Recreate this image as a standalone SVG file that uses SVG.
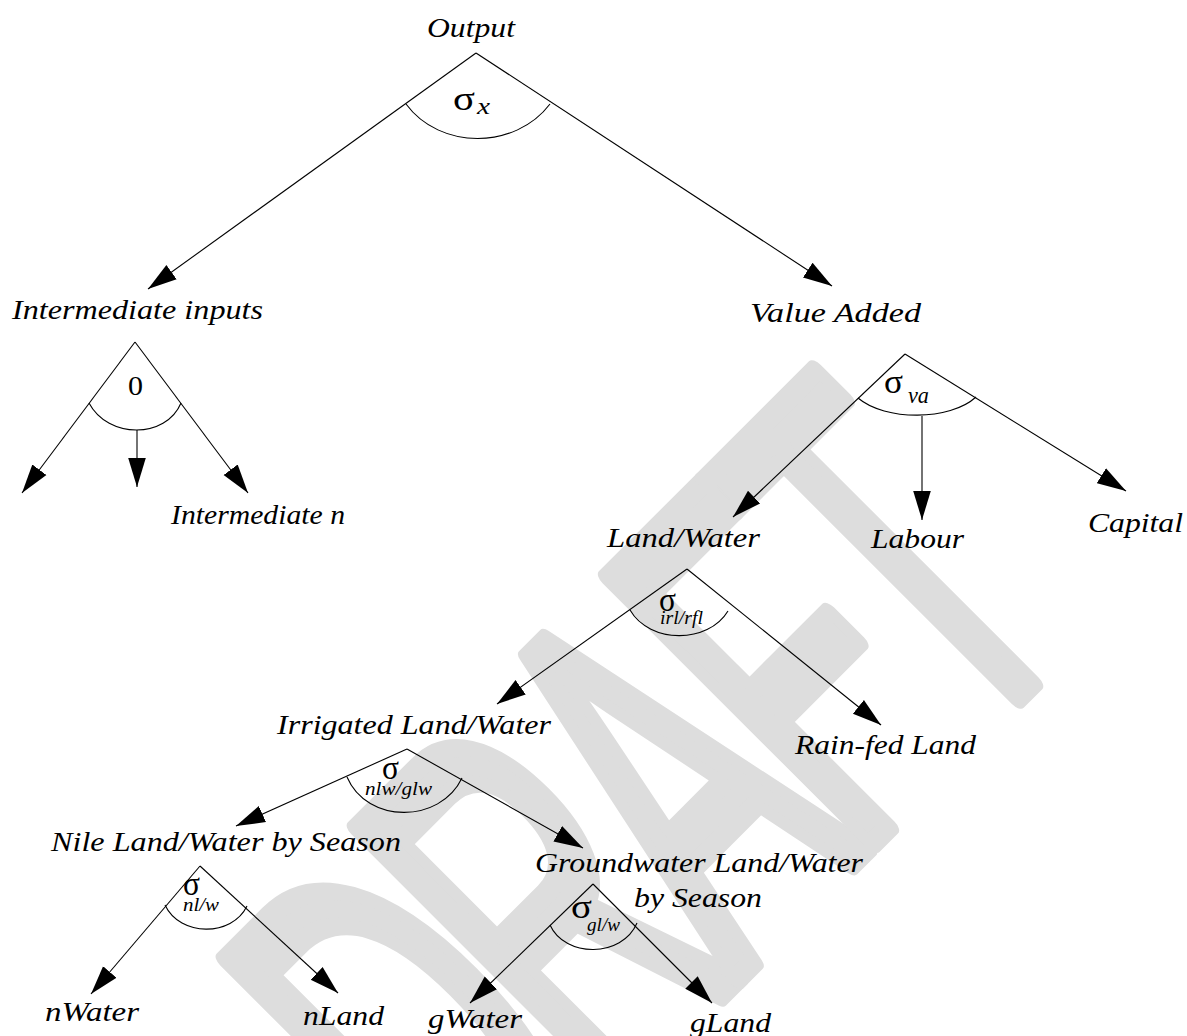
<svg xmlns="http://www.w3.org/2000/svg" width="1187" height="1036" viewBox="0 0 1187 1036">
<style>
.wm{font-family:"Liberation Sans",Arial,sans-serif;font-size:545px;letter-spacing:-37px;fill:#dddddd;stroke:#dddddd;stroke-width:22px;stroke-linejoin:round}
.lbl{font-family:"Liberation Serif","Times New Roman",serif;font-style:italic;font-size:27px;fill:#000}
.sig{font-family:"Liberation Serif","Times New Roman",serif;font-size:34px;fill:#000}
.sub{font-family:"Liberation Serif","Times New Roman",serif;font-style:italic;font-size:19px;fill:#000}
.num{font-family:"Liberation Serif","Times New Roman",serif;font-size:27px;fill:#000}
.ln{stroke:#000;stroke-width:1.1;fill:none}
.ar{stroke:#000;stroke-width:1.1;fill:none;marker-end:url(#ah)}
</style>
<defs>
<marker id="ah" markerUnits="userSpaceOnUse" markerWidth="30" markerHeight="20" viewBox="0 0 30 20" refX="29" refY="10" orient="auto">
<path d="M0,1.2 L29,10 L0,18.8 z" fill="#000"/>
</marker>
</defs>
<rect width="1187" height="1036" fill="#fff"/>
<text class="wm" transform="translate(473,1243) rotate(-45) scale(0.52,1)">DRAFT</text>

<g id="connectors">
<path class="ar" d="M476,53 L148,289"/>
<path class="ar" d="M476,53 L832,286"/>
<path class="ln" d="M406,104 C440,150 515,150 550,104"/>

<path class="ar" d="M135,342 L22,493"/>
<path class="ar" d="M135,342 L248,493"/>
<path class="ar" d="M137,430 L137,487"/>
<path class="ln" d="M89,403 C108,439 166,439 181,403"/>

<path class="ar" d="M905,354 L733,517"/>
<path class="ar" d="M922,416 L922,520"/>
<path class="ar" d="M905,354 L1126,491"/>
<path class="ln" d="M858,398 C885,421 950,421 976,397"/>

<path class="ar" d="M687,569 L497,704"/>
<path class="ar" d="M687,569 L881,725"/>
<path class="ln" d="M630,610 C650,644 708,644 728,611"/>

<path class="ar" d="M407,749 L236,826"/>
<path class="ar" d="M407,749 L583,848"/>
<path class="ln" d="M347,777 C367,824 440,824 462,778"/>

<path class="ar" d="M200,866 L91,994"/>
<path class="ar" d="M200,866 L338,993"/>
<path class="ln" d="M165,905 C180,937 232,937 247,906"/>

<path class="ar" d="M593,884 L470,1003"/>
<path class="ar" d="M593,884 L712,1003"/>
<path class="ln" d="M550,925 C565,958 622,958 637,923"/>
</g>

<g id="n-output"><text class="lbl" x="427" y="37" textLength="88" lengthAdjust="spacingAndGlyphs">Output</text>
<text class="sig" x="453" y="110" textLength="22" lengthAdjust="spacingAndGlyphs">σ</text><text class="sub" x="477" y="114" style="font-size:24px" textLength="13" lengthAdjust="spacingAndGlyphs">x</text></g>

<g id="n-intermediate"><text class="lbl" x="12" y="319" textLength="251" lengthAdjust="spacingAndGlyphs">Intermediate inputs</text>
<text class="num" x="128" y="395" textLength="15" lengthAdjust="spacingAndGlyphs">0</text></g>

<g id="n-intermediate-n"><text class="lbl" x="171" y="524" textLength="174" lengthAdjust="spacingAndGlyphs">Intermediate n</text></g>

<g id="n-value-added"><text class="lbl" x="750" y="322" textLength="171" lengthAdjust="spacingAndGlyphs">Value Added</text>
<text class="sig" x="884" y="393" textLength="19" lengthAdjust="spacingAndGlyphs">σ</text><text class="sub" x="908" y="403" style="font-size:23px" textLength="21" lengthAdjust="spacingAndGlyphs">va</text></g>

<g id="n-land-water"><text class="lbl" x="607" y="547" textLength="153" lengthAdjust="spacingAndGlyphs">Land/Water</text>
<text class="sig" x="659" y="611" textLength="17" lengthAdjust="spacingAndGlyphs">σ</text><text class="sub" x="660" y="624" textLength="43" lengthAdjust="spacingAndGlyphs">irl/rfl</text></g>

<g id="n-labour"><text class="lbl" x="871" y="548" textLength="93" lengthAdjust="spacingAndGlyphs">Labour</text></g>
<g id="n-capital"><text class="lbl" x="1088" y="532" textLength="95" lengthAdjust="spacingAndGlyphs">Capital</text></g>

<g id="n-irrigated"><text class="lbl" x="277" y="734" textLength="274" lengthAdjust="spacingAndGlyphs">Irrigated Land/Water</text>
<text class="sig" x="382" y="779" textLength="17" lengthAdjust="spacingAndGlyphs">σ</text><text class="sub" x="365" y="795" textLength="67" lengthAdjust="spacingAndGlyphs">nlw/glw</text></g>

<g id="n-rainfed"><text class="lbl" x="795" y="754" textLength="181" lengthAdjust="spacingAndGlyphs">Rain-fed Land</text></g>

<g id="n-nile"><text class="lbl" x="51" y="851" textLength="350" lengthAdjust="spacingAndGlyphs">Nile Land/Water by Season</text>
<text class="sig" x="183" y="895" textLength="17" lengthAdjust="spacingAndGlyphs">σ</text><text class="sub" x="183" y="911" textLength="36" lengthAdjust="spacingAndGlyphs">nl/w</text></g>

<g id="n-groundwater"><text class="lbl" x="535" y="872" textLength="328" lengthAdjust="spacingAndGlyphs">Groundwater Land/Water</text>
<text class="lbl" x="634" y="907" textLength="128" lengthAdjust="spacingAndGlyphs">by Season</text>
<text class="sig" x="571" y="918" textLength="21" lengthAdjust="spacingAndGlyphs">σ</text><text class="sub" x="587" y="931" textLength="33" lengthAdjust="spacingAndGlyphs">gl/w</text></g>

<g id="n-nwater"><text class="lbl" x="45" y="1021" textLength="94" lengthAdjust="spacingAndGlyphs">nWater</text></g>
<g id="n-nland"><text class="lbl" x="303" y="1025" textLength="81" lengthAdjust="spacingAndGlyphs">nLand</text></g>
<g id="n-gwater"><text class="lbl" x="428" y="1028" textLength="94" lengthAdjust="spacingAndGlyphs">gWater</text></g>
<g id="n-gland"><text class="lbl" x="690" y="1032" textLength="81" lengthAdjust="spacingAndGlyphs">gLand</text></g>
</svg>
